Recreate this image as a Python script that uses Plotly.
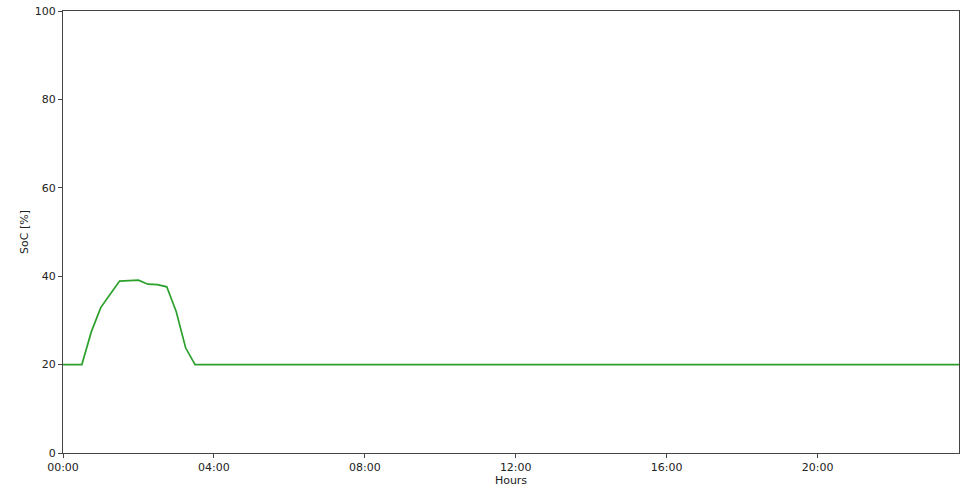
import pandas as pd
import plotly.graph_objects as go

# 15-minute intervals over one day
times = pd.date_range("2024-01-01 00:00", periods=96, freq="15min")
soc_start = [20.0, 20.0, 20.0, 27.4, 32.9, 35.9, 38.9, 39.0, 39.1, 38.2, 38.1, 37.6, 32.0, 23.8, 20.0]
soc = soc_start + [20.0] * (96 - len(soc_start))

y_ticks = [0, 20, 40, 60, 80, 100]
x_tick_vals = pd.date_range("2024-01-01 00:00", periods=6, freq="4h")
x_tick_text = ["00:00", "04:00", "08:00", "12:00", "16:00", "20:00"]

fig = go.Figure()
fig.add_trace(go.Scatter(x=times, y=soc, mode="lines",
                         line=dict(color="#2ca02c", width=1.7), showlegend=False))

axis_common = dict(showline=True, linecolor="#444", linewidth=1, mirror=True,
                   ticks="outside", ticklen=4, tickcolor="#444", showgrid=False,
                   zeroline=False, automargin=False,
                   tickfont=dict(family="DejaVu Sans", size=11, color="#222"))

fig.update_xaxes(range=[times[0], times[-1]], tickvals=x_tick_vals, ticktext=x_tick_text,
                 ticklabelstandoff=0,
                 title=dict(text="Hours", font=dict(family="DejaVu Sans", size=11, color="#222"), standoff=3),
                 **axis_common)
fig.update_yaxes(range=[0, 100], tickvals=y_ticks,
                 title=dict(text="SoC [%]", font=dict(family="DejaVu Sans", size=11, color="#222"), standoff=3),
                 **axis_common)

fig.update_layout(width=967, height=488, plot_bgcolor="white", paper_bgcolor="white",
                  margin=dict(l=63, r=8, t=11, b=35))

fig.write_html("out.html", config={"displayModeBar": False},
               post_script="document.body.style.margin='0';")
